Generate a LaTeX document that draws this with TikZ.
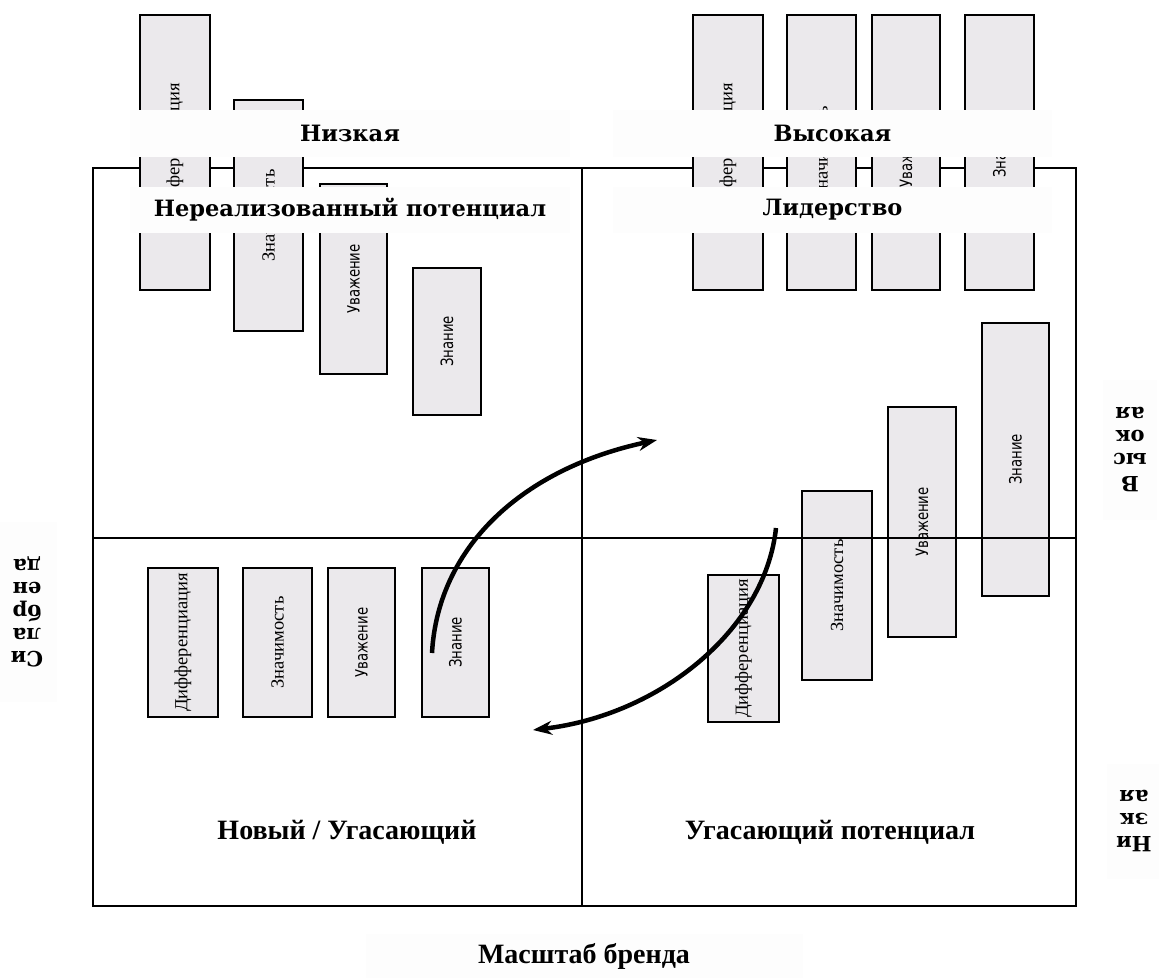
\documentclass[tikz,border=0pt]{standalone}
\usepackage{fontspec}
\setmainfont{Liberation Serif}
\newfontfamily\dvserif{DejaVu Serif}
\newfontfamily\dvsans[FakeStretch=0.78]{DejaVu Sans}
\usetikzlibrary{arrows.meta}
\definecolor{barfill}{RGB}{235,233,236}
\definecolor{bandfill}{RGB}{253,253,253}
\definecolor{faint}{RGB}{253,253,253}
\newcommand\serbar[1]{{\fontsize{18.5}{20}\selectfont #1}}
\newcommand\sanbar[1]{{\dvsans\fontsize{17}{19}\selectfont #1}}
\newcommand\barnode[6]{\node[barbox, minimum width={#5-#3}, minimum height={#4-#2}] (#1) at ({(#2+#4)/2},{(#3+#5)/2}) {#6};}
\tikzset{
  barbox/.style={draw=black, line width=1.3pt, fill=barfill, inner sep=0pt, rotate=90},
  band/.style={fill=bandfill, inner sep=0pt, font=\dvserif\bfseries\fontsize{22.5}{26}\selectfont},
  side/.style={fill=faint, rotate=180, align=center, inner sep=0pt, font=\dvserif\bfseries\fontsize{21}{23}\selectfont},
  qlabel/.style={inner sep=0pt, font=\bfseries\fontsize{28}{30}\selectfont},
  frameline/.style={line width=2pt},
  flow/.style={line width=4.5pt, -{Stealth[length=19pt,width=14pt]}},
}
\begin{document}
\begin{tikzpicture}[x=1pt,y=-1pt]
\useasboundingbox[fill=white] (0,0) rectangle (1159,977);
% outer frame
\draw[frameline] (93,168) rectangle (1076,906);
% top-left bars
\barnode{tla}{140}{15}{210}{290}{\serbar{Дифференциация}}
\barnode{tlb}{234}{100}{303}{331}{\serbar{Значимость}}
\barnode{tlc}{320}{184}{387}{374}{\sanbar{Уважение}}
\barnode{tld}{413}{268}{481}{415}{\sanbar{Знание}}
% top-right bars
\barnode{tra}{693}{15}{763}{290}{\serbar{Дифференциация}}
\barnode{trb}{787}{15}{856}{290}{\serbar{Значимость}}
\barnode{trc}{872}{15}{940}{290}{\sanbar{Уважение}}
\barnode{trd}{965}{15}{1034}{290}{\sanbar{Знание}}
% bottom-left bars
\barnode{bla}{148}{568}{218}{717}{\serbar{Дифференциация}}
\barnode{blb}{243}{568}{312}{717}{\serbar{Значимость}}
\barnode{blc}{328}{568}{395}{717}{\sanbar{Уважение}}
\barnode{bld}{422}{568}{489}{717}{\sanbar{Знание}}
% bottom-right bars
\barnode{bra}{708}{575}{779}{722}{\serbar{Дифференциация}}
\barnode{brb}{802}{491}{872}{680}{\serbar{Значимость}}
\barnode{brc}{888}{407}{956}{637}{\sanbar{Уважение}}
\barnode{brd}{982}{323}{1049}{596}{\sanbar{Знание}}
% dividing lines
\draw[frameline] (582,168) -- (582,906);
\draw[frameline] (93,538) -- (1076,538);
% arrows
\coordinate (a1s) at (432,653);
\coordinate (a1e) at (657,440);
\coordinate (a2s) at (776,528);
\coordinate (a2e) at (533,730);
\draw[flow] (a1s) .. controls (438,545) and (525,468) .. (a1e);
\draw[flow] (a2s) .. controls (765,630) and (660,715) .. (a2e);
% top bands
\node[band, minimum width=440, minimum height=47] (low) at (350,133.5) {Низкая};
\node[band, minimum width=440, minimum height=46] (unreal) at (350,210) {Нереализованный потенциал};
\node[band, minimum width=439, minimum height=47] (high) at (832.5,133.5) {Высокая};
\node[band, minimum width=439, minimum height=46] (lead) at (832.5,210) {Лидерство};
% side labels
\node[side, minimum width=60, minimum height=180] (force) at (27,612) {Си\\ла\\бр\\ен\\да};
\node[side, minimum width=54, minimum height=140] (yhigh) at (1130,450) {В\\ыс\\ок\\ая};
\node[side, minimum width=54, minimum height=115] (ylow) at (1134,821) {Ни\\зк\\ая};
% bottom labels
\node[qlabel] (newfade) at (347,832) {Новый / Угасающий};
\node[qlabel] (fadepot) at (830,832) {Угасающий потенциал};
\node[qlabel, fill=faint, minimum width=437, minimum height=44] (scale) at (584,956) {Масштаб бренда};
\end{tikzpicture}
\end{document}
